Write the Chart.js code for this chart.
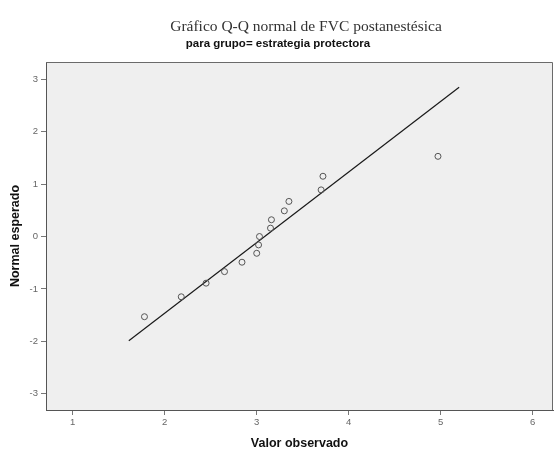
<!DOCTYPE html>
<html>
<head>
<meta charset="utf-8">
<script src="https://cdn.jsdelivr.net/npm/chart.js@4"></script>
<style>
  html, body { margin: 0; padding: 0; background: #ffffff; }
  #wrap { width: 558px; height: 454px; }
</style>
</head>
<body>
<div id="wrap"><canvas id="myChart" width="558" height="454"></canvas></div>
<script>
// valores observados (FVC postanestesica) y normal esperado
const observedValues = [1.78, 2.18, 2.45, 2.65, 2.84, 3.00, 3.02, 3.03, 3.15, 3.16, 3.30, 3.35, 3.70, 3.72, 4.97];
const expectedNormal = [-1.53, -1.15, -0.89, -0.67, -0.49, -0.32, -0.16, 0.00, 0.16, 0.32, 0.49, 0.67, 0.89, 1.15, 1.53];

// recta de referencia
const lineX = [1.61, 5.20];
const lineY = [-1.99, 2.85];

// marcas de los ejes
const xTicks = [1, 2, 3, 4, 5, 6];
const yTicks = [-3, -2, -1, 0, 1, 2, 3];

const chartTitle = 'Gráfico Q-Q normal de FVC postanestésica';
const chartSubtitle = 'para grupo= estrategia protectora';

document.addEventListener('DOMContentLoaded', function () {

    const chartCanvas = document.getElementById('myChart');

    // fondo gris del area y marco + titulos
    const frame = {
        id: 'frame',
        beforeDraw(chart) {
            const { ctx, chartArea: a } = chart;
            ctx.save();
            ctx.fillStyle = '#efefef';
            ctx.fillRect(a.left, a.top, a.right - a.left, a.bottom - a.top);
            ctx.restore();
        },
        afterDraw(chart) {
            const { ctx, chartArea: a } = chart;
            ctx.save();
            ctx.strokeStyle = '#6a6a6a';
            ctx.lineWidth = 1;
            ctx.beginPath();
            ctx.moveTo(a.left, a.top + 0.5);
            ctx.lineTo(a.right - 0.5, a.top + 0.5);
            ctx.lineTo(a.right - 0.5, a.bottom);
            ctx.stroke();

            ctx.textAlign = 'center';
            ctx.textBaseline = 'middle';
            ctx.fillStyle = '#333333';
            ctx.font = '15.5px "Liberation Serif", serif';
            ctx.fillText(chartTitle, 306, 27);
            ctx.fillStyle = '#111111';
            ctx.font = 'bold 11.5px "Liberation Sans", Arial, sans-serif';
            ctx.fillText(chartSubtitle, 278, 44);
            ctx.restore();
        }
    };

    const scatterData = observedValues.map(function (v, i) {
        return { x: v, y: expectedNormal[i] };
    });
    const lineData = lineX.map(function (v, i) {
        return { x: v, y: lineY[i] };
    });

    const chartConfig = {
        type: 'scatter',
        data: {
            datasets: [{
                data: scatterData,
                pointStyle: 'circle',
                pointRadius: 3,
                pointBorderWidth: 1,
                borderColor: '#555555',
                backgroundColor: 'rgba(0,0,0,0)',
            }, {
                type: 'line',
                data: lineData,
                borderColor: '#1a1a1a',
                borderWidth: 1.2,
                pointRadius: 0,
                fill: false,
            }],
        },
        options: {
            responsive: false,
            animation: false,
            layout: { padding: { top: 62, right: 3, left: 0, bottom: 0 } },
            plugins: {
                legend: { display: false },
                tooltip: { enabled: false },
            },
            scales: {
                x: {
                    type: 'linear',
                    min: 0.71,
                    max: 6.22,
                    afterBuildTicks: function (scale) {
                        scale.ticks = xTicks.map(function (v) { return { value: v }; });
                    },
                    afterFit: function (scale) { scale.height = 44; },
                    grid: { drawOnChartArea: false, drawTicks: true, tickLength: 5, color: '#777777' },
                    border: { display: true, color: '#555555', width: 1 },
                    ticks: { color: '#666666', font: { size: 9.5, family: 'Liberation Sans' }, padding: 2, maxRotation: 0 },
                    title: {
                        display: true,
                        text: 'Valor observado',
                        color: '#111111',
                        font: { size: 12.5, weight: 'bold', family: 'Liberation Sans' },
                        padding: { top: 4, bottom: 3 },
                    },
                },
                y: {
                    type: 'linear',
                    min: -3.31,
                    max: 3.33,
                    afterBuildTicks: function (scale) {
                        scale.ticks = yTicks.map(function (v) { return { value: v }; });
                    },
                    afterFit: function (scale) { scale.width = 46; },
                    grid: { drawOnChartArea: false, drawTicks: true, tickLength: 5, color: '#777777' },
                    border: { display: true, color: '#555555', width: 1 },
                    ticks: { color: '#666666', font: { size: 9.5, family: 'Liberation Sans' }, padding: 3 },
                    title: {
                        display: true,
                        text: 'Normal esperado',
                        color: '#111111',
                        font: { size: 12.5, weight: 'bold', family: 'Liberation Sans' },
                        padding: { top: 8, bottom: 0 },
                    },
                },
            },
        },
        plugins: [frame],
    };

    const myChart = new Chart(chartCanvas, chartConfig);
});
</script>
</body>
</html>
